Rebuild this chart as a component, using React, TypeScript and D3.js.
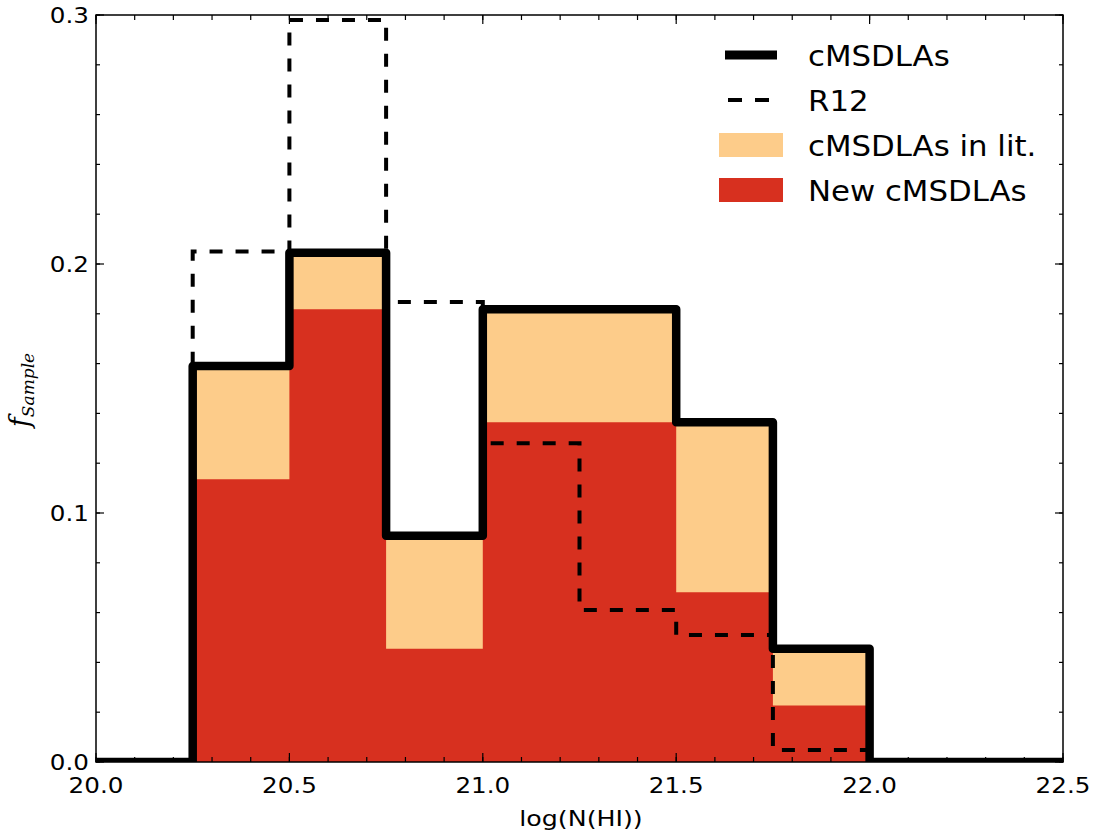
import * as d3 from "d3";

// bin edges of log(N(HI)) and the fractions per bin
const binEdges = [20.0, 20.25, 20.5, 20.75, 21.0, 21.25, 21.5, 21.75, 22.0, 22.25, 22.5];
const allFrac = [0, 0.159, 0.2045, 0.0909, 0.1818, 0.1818, 0.1364, 0.0455, 0, 0];
const newFrac = [0, 0.1136, 0.1818, 0.0455, 0.1364, 0.1364, 0.0682, 0.0227, 0, 0];
const r12Frac = [0, 0.205, 0.298, 0.1847, 0.128, 0.061, 0.051, 0.0048, 0, 0];

const xTicks = [20.0, 20.5, 21.0, 21.5, 22.0, 22.5];
const yTicks = [0.0, 0.1, 0.2, 0.3];

const legendItems = ["cMSDLAs", "R12", "cMSDLAs in lit.", "New cMSDLAs"];

const ORANGE = "#fdcc8a";
const RED = "#d7301f";
const FONT = "'DejaVu Sans', sans-serif";

export default function App() {
    const width = 1099;
    const height = 838;
    const left = 96, right = 1063, top = 15, bottom = 762;

    const x = d3.scaleLinear().domain([20.0, 22.5]).range([left, right]);
    const y = d3.scaleLinear().domain([0, 0.3]).range([bottom, top]);

    // step outline through the bins (like histtype='step')
    const stepPath = (vals: number[]) => {
        const pts: [number, number][] = [];
        vals.forEach((v, i) => {
            pts.push([x(binEdges[i]), y(v)]);
            pts.push([x(binEdges[i + 1]), y(v)]);
        });
        return d3.line()(pts) as string;
    };

    // filled area under the step
    const fillPath = (vals: number[]) => {
        const pts: [number, number][] = [[x(binEdges[0]), y(0)]];
        vals.forEach((v, i) => {
            pts.push([x(binEdges[i]), y(v)]);
            pts.push([x(binEdges[i + 1]), y(v)]);
        });
        pts.push([x(binEdges[binEdges.length - 1]), y(0)]);
        return (d3.line()(pts) as string) + "Z";
    };

    const xMinor = d3.range(20.0, 22.5001, 0.1);
    const yMinor = d3.range(0, 0.3001, 0.02);

    // text in the picture is a bit stretched sideways
    const txt = (tx: number, ty: number, s: string, size: number, anchor: string, sx = 1.12) => (
        <text
            transform={`translate(${tx},${ty}) scale(${sx},1)`}
            fontSize={size}
            fontFamily={FONT}
            textAnchor={anchor}
            fill="#000"
        >
            {s}
        </text>
    );

    return (
        <svg width={width} height={height} style={{ position: "absolute", left: 0, top: 0 }}>
            <defs>
                <clipPath id="plotclip">
                    <rect x={left} y={top} width={right - left} height={bottom - top} />
                </clipPath>
            </defs>
            <rect width={width} height={height} fill="#fff" />

            <g clipPath="url(#plotclip)">
                <path d={fillPath(allFrac)} fill={ORANGE} />
                <path d={fillPath(newFrac)} fill={RED} />
                <path
                    d={stepPath(r12Frac)}
                    fill="none"
                    stroke="#000"
                    strokeWidth={4}
                    strokeDasharray="13,13"
                />
                <path
                    d={stepPath(allFrac)}
                    fill="none"
                    stroke="#000"
                    strokeWidth={8.5}
                    strokeLinejoin="round"
                />
            </g>

            {/* frame */}
            <rect x={left} y={top} width={right - left} height={bottom - top} fill="none" stroke="#000" strokeWidth={1.5} />

            {/* x ticks, top and bottom */}
            {xMinor.map((v) => (
                <g key={"xm" + v}>
                    <line x1={x(v)} x2={x(v)} y1={bottom} y2={bottom - 5} stroke="#000" strokeWidth={1.2} />
                    <line x1={x(v)} x2={x(v)} y1={top} y2={top + 5} stroke="#000" strokeWidth={1.2} />
                </g>
            ))}
            {xTicks.map((v) => (
                <g key={"x" + v}>
                    <line x1={x(v)} x2={x(v)} y1={bottom} y2={bottom - 9} stroke="#000" strokeWidth={1.2} />
                    <line x1={x(v)} x2={x(v)} y1={top} y2={top + 9} stroke="#000" strokeWidth={1.2} />
                    {txt(x(v), bottom + 31, v.toFixed(1), 22, "middle")}
                </g>
            ))}

            {/* y ticks, left and right */}
            {yMinor.map((v) => (
                <g key={"ym" + v}>
                    <line x1={left} x2={left + 4} y1={y(v)} y2={y(v)} stroke="#000" strokeWidth={1.2} />
                    <line x1={right} x2={right - 4} y1={y(v)} y2={y(v)} stroke="#000" strokeWidth={1.2} />
                </g>
            ))}
            {yTicks.map((v) => (
                <g key={"y" + v}>
                    <line x1={left} x2={left + 8} y1={y(v)} y2={y(v)} stroke="#000" strokeWidth={1.2} />
                    <line x1={right} x2={right - 8} y1={y(v)} y2={y(v)} stroke="#000" strokeWidth={1.2} />
                    {txt(left - 7, y(v) + 8, v.toFixed(1), 22, "end")}
                </g>
            ))}

            {/* axis labels */}
            {txt(581, 826, "log(N(HI))", 22, "middle", 1.15)}
            <text
                transform="translate(29,390) rotate(-90)"
                textAnchor="middle"
                fontFamily="'DejaVu Serif', serif"
                fontStyle="italic"
                fill="#000"
            >
                <tspan fontSize={27}>f</tspan>
                <tspan fontSize={17} dy={5}>Sample</tspan>
            </text>

            {/* legend */}
            <g>
                <line x1={725} x2={777} y1={55} y2={55} stroke="#000" strokeWidth={9} />
                <line x1={728} x2={770} y1={100} y2={100} stroke="#000" strokeWidth={4} strokeDasharray="14,13" />
                <rect x={719} y={133} width={64} height={24} fill={ORANGE} />
                <rect x={719} y={178} width={64} height={24} fill={RED} />
                {legendItems.map((name, i) => (
                    <g key={name}>{txt(808, 66 + i * 45, name, 28, "start", 1.1)}</g>
                ))}
            </g>
        </svg>
    );
}
